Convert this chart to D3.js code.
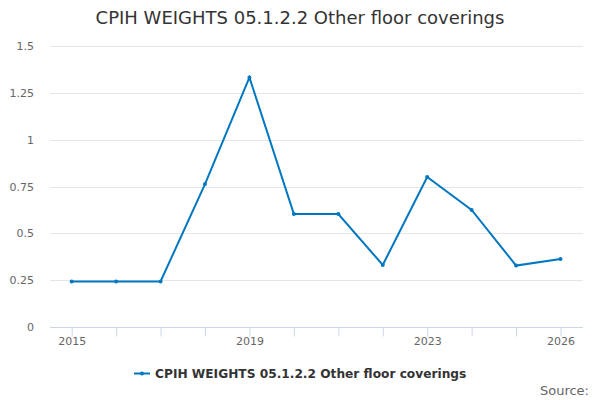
<!DOCTYPE html>
<html><head><meta charset="utf-8">
<script src="https://cdn.jsdelivr.net/npm/d3@7"></script>
<style>body{margin:0;background:#fff;font-family:"DejaVu Sans",sans-serif;}</style>
</head><body><svg id="c" width="600" height="400"></svg>
<script>
const years = [2015,2016,2017,2018,2019,2020,2021,2022,2023,2024,2025,2026];
const values = [0.243,0.243,0.243,0.763,1.332,0.603,0.603,0.331,0.801,0.625,0.328,0.363];
const yTicks = [0,0.25,0.5,0.75,1,1.25,1.5];
const yTickLabels = ["0","0.25","0.5","0.75","1","1.25","1.5"];
const xTickLabels = [2015,2019,2023,2026];
const title = "CPIH WEIGHTS 05.1.2.2 Other floor coverings";
const color = "#0077c0";

const svg = d3.select("#c");
const L=50,R=583,T=46,B=327;
const x = d3.scaleLinear().domain([2014.512,2026.506]).range([L,R]);
const y = d3.scaleLinear().domain([0,1.5]).range([B,T]);

svg.append("text").attr("x",300).attr("y",24).attr("text-anchor","middle")
  .attr("font-size",18).attr("fill","#333").text(title);

// grid
svg.append("g").selectAll("line").data(yTicks.slice(1)).join("line")
  .attr("x1",L).attr("x2",R).attr("y1",d=>Math.round(y(d))+0.5).attr("y2",d=>Math.round(y(d))+0.5)
  .attr("stroke","#e6e6e6");
// y labels
svg.append("g").selectAll("text").data(yTicks).join("text")
  .attr("x",34).attr("y",d=>y(d)+4).attr("text-anchor","end")
  .attr("font-size",11).attr("fill","#666").text((d,i)=>yTickLabels[i]);

// x axis
const xAxis = d3.axisBottom(x).tickValues(years).tickSize(9).tickFormat(d=>xTickLabels.includes(d)?d:"");
const gx = svg.append("g").attr("transform",`translate(0,${B+0.5})`).call(xAxis);
gx.select(".domain").attr("stroke","#ccd6eb").attr("d",`M${L},0H${R}`);
gx.selectAll(".tick line").attr("stroke","#ccd6eb");
gx.selectAll(".tick text").attr("font-size",11).attr("fill","#666").attr("font-family","DejaVu Sans").attr("dy","0.3em").attr("y",14);

// line
const line = d3.line().x((d,i)=>x(years[i])).y(d=>y(d));
svg.append("path").datum(values).attr("d",line).attr("fill","none")
  .attr("stroke",color).attr("stroke-width",2);
svg.append("g").selectAll("circle").data(values).join("circle")
  .attr("cx",(d,i)=>x(years[i])).attr("cy",d=>y(d)).attr("r",2).attr("fill",color);

// legend
svg.append("line").attr("x1",134).attr("x2",150).attr("y1",373.5).attr("y2",373.5).attr("stroke",color).attr("stroke-width",2);
svg.append("circle").attr("cx",142).attr("cy",373.5).attr("r",2).attr("fill",color);
svg.append("text").attr("x",155).attr("y",378).attr("font-size",12.2).attr("font-weight","bold").attr("fill","#333").text(title);
svg.append("text").attr("x",589).attr("y",395).attr("text-anchor","end").attr("font-size",13).attr("fill","#666").text("Source:");
</script></body></html>
